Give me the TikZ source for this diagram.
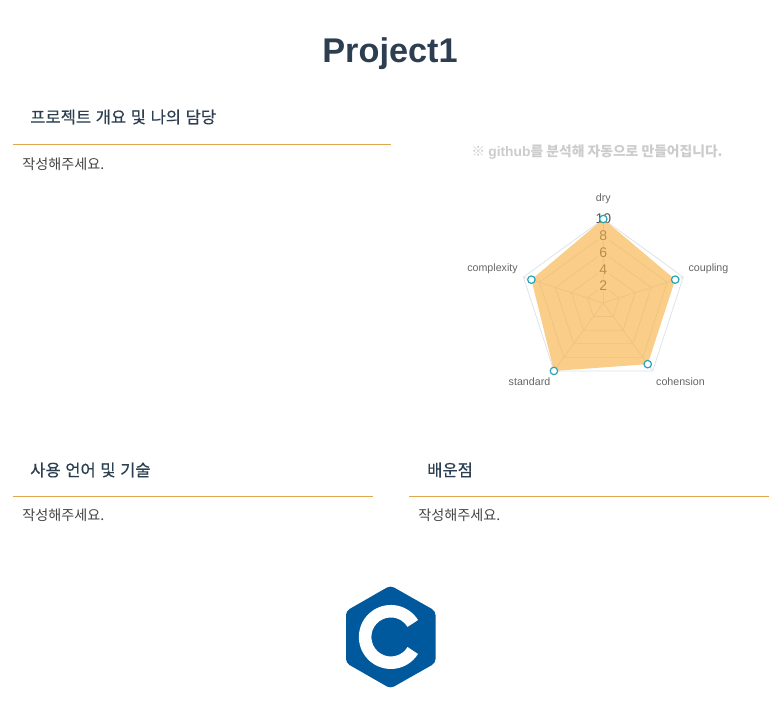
\documentclass[tikz,border=0pt]{standalone}
\usepackage{fontspec}
\setmainfont{Liberation Sans}
\newfontfamily\krfont{Noto Sans CJK KR}
\newfontfamily\krhead[WordSpace=1.25,FakeBold=0.35]{Noto Sans CJK KR}
\definecolor{ink}{HTML}{2C3E50}
\definecolor{bodyc}{HTML}{444444}
\definecolor{rulec}{HTML}{E0A84E}
\definecolor{gridc}{HTML}{DCE2E9}
\definecolor{tickc}{HTML}{555555}
\definecolor{labelc}{HTML}{666666}
\definecolor{radarc}{HTML}{F7B142}
\definecolor{pointc}{HTML}{2BA3B5}
\definecolor{logoc}{HTML}{00599C}
\tikzset{
  heading/.style={anchor=west,inner sep=0,text=ink,font=\krhead\fontsize{12.4pt}{14pt}\selectfont},
  bodytext/.style={anchor=west,inner sep=0,text=bodyc,font=\krfont\fontsize{10.6pt}{12pt}\selectfont},
  sectionrule/.style={draw=rulec,line width=0.75pt},
  axislabel/.style={inner sep=0,text=labelc,font=\fontsize{8pt}{10pt}\selectfont},
  ticklabel/.style={inner sep=0,text=tickc,font=\fontsize{10.5pt}{12pt}\selectfont},
  gridline/.style={draw=gridc,line width=0.55pt},
  radarpt/.style={circle,draw=pointc,fill=white,line width=0.9pt,minimum size=5.6pt,inner sep=0},
}
\begin{document}
\begin{tikzpicture}[x=0.75pt,y=-0.75pt]
\useasboundingbox (0,0) rectangle (776,701);
\fill[white] (0,0) rectangle (776,701);
\node[inner sep=0,text=ink,font=\bfseries\fontsize{25.7pt}{30pt}\selectfont] (title) at (390,54) {Project1};

\node[heading] (h1) at (30,117) {프로젝트 개요 및 나의 담당};
\draw[sectionrule] (13,144.5) -- (391,144.5);
\node[bodytext] (b1) at (22,164.5) {작성해주세요.};

\node[inner sep=0,text=black!20,font=\krfont\bfseries\fontsize{10.35pt}{12pt}\selectfont] (note) at (597,152.5) {※ {\rmfamily github}를 분석해 자동으로 만들어집니다.};

\node[heading] (h2) at (30,470) {사용 언어 및 기술};
\draw[sectionrule] (13,496.5) -- (373,496.5);
\node[bodytext] (b2) at (22,515.5) {작성해주세요.};

\node[heading] (h3) at (427,470) {배운점};
\draw[sectionrule] (409,496.5) -- (769,496.5);
\node[bodytext] (b3) at (418,515.5) {작성해주세요.};

% radar
\def\cx{603.3}\def\cy{303}\def\unit{8.4}
\newcommand{\radarpt}[2]{({\cx+#2*\unit*cos(90-72*#1)},{\cy-#2*\unit*sin(90-72*#1)})}
\foreach \i in {0,...,4} \draw[gridline] (\cx,\cy) -- \radarpt{\i}{10};
\foreach \r in {2,4,6,8,10}
  \draw[gridline] \radarpt{0}{\r} -- \radarpt{1}{\r} -- \radarpt{2}{\r} -- \radarpt{3}{\r} -- \radarpt{4}{\r} -- cycle;
\node[ticklabel,fill=white,inner xsep=1pt] (t2) at (603.3,286) {2};
\node[ticklabel,fill=white,inner xsep=1pt] (t4) at (603.3,269.5) {4};
\node[ticklabel,fill=white,inner xsep=1pt] (t6) at (603.3,253) {6};
\node[ticklabel,fill=white,inner xsep=1pt] (t8) at (603.3,236) {8};
\node[ticklabel,fill=white,inner xsep=1pt] (t10) at (603.3,218.5) {10};
\fill[radarc,fill opacity=.62] \radarpt{0}{10} -- \radarpt{1}{9} -- \radarpt{2}{9} -- \radarpt{3}{10} -- \radarpt{4}{9} -- cycle;
\node[radarpt] (p0) at \radarpt{0}{10} {};
\node[radarpt] (p1) at \radarpt{1}{9} {};
\node[radarpt] (p2) at \radarpt{2}{9} {};
\node[radarpt] (p3) at \radarpt{3}{10} {};
\node[radarpt] (p4) at \radarpt{4}{9} {};
\node[axislabel] (l0) at (603.3,199.2) {dry};
\node[axislabel] (l1) at (708.5,269) {coupling};
\node[axislabel] (l2) at (680.5,382) {cohension};
\node[axislabel] (l3) at (529.5,382) {standard};
\node[axislabel] (l4) at (492.5,269) {complexity};

% C logo
\fill[logoc,rounded corners=3pt] (390.5,585.5) -- (435.5,611) -- (435.5,663) -- (390.5,688.5) -- (346,663) -- (346,611) -- cycle;
\fill[white] (418,620)
  arc[start angle=-32,end angle=-328,radius=32] -- (407.6,647)
  arc[start angle=31,end angle=329,radius=19.5] -- cycle;
\end{tikzpicture}
\end{document}
